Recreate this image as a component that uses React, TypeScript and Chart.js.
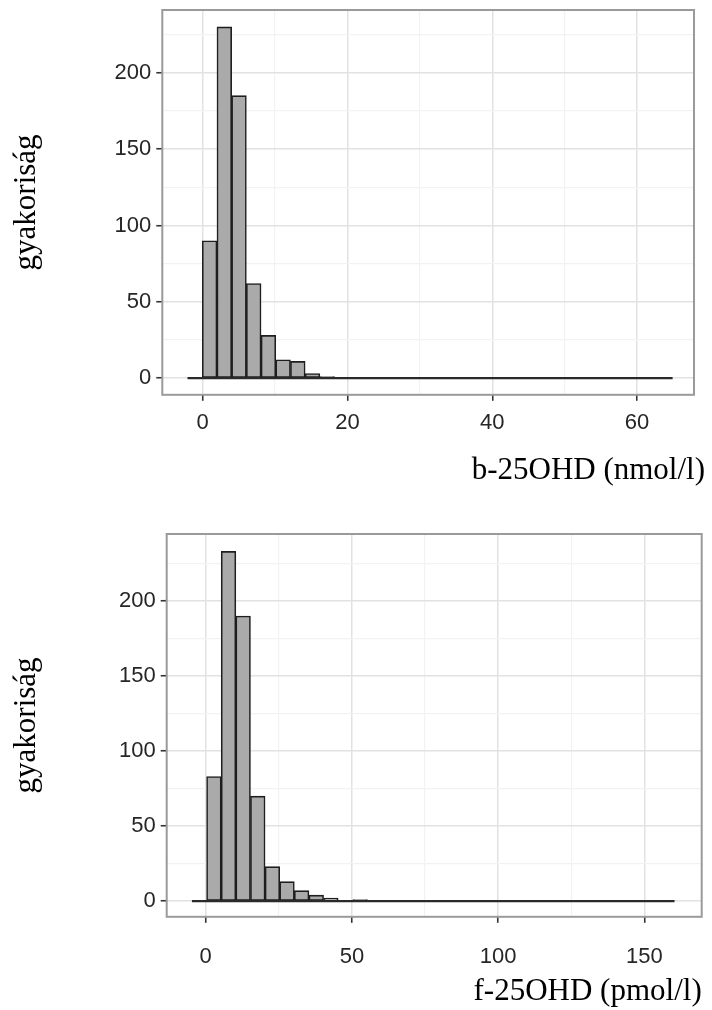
import { useEffect, useRef } from 'react';
import Chart from 'chart.js/auto';

// ---- data: top histogram (b-25OHD, nmol/l) ----
const bBinStart = -2.09;
const bBinWidth = 2.03;
const bCounts = [
  0, 90, 230, 185, 62, 28, 12, 11, 3, 1,
  0, 0, 0, 0, 0, 0, 0, 0, 0, 0,
  0, 0, 0, 0, 0, 0, 0, 0, 0, 0,
  0, 0, 0,
];
const bXMajor = [0, 20, 40, 60];
const bXMinor = [10, 30, 50];

// ---- data: bottom histogram (f-25OHD, pmol/l) ----
const fBinStart = -4.7;
const fBinWidth = 5.0;
const fCounts = [
  0, 83, 233, 190, 70, 23, 13, 7, 4, 2,
  0, 1, 0, 0, 0, 0, 0, 0, 0, 0,
  0, 0, 0, 0, 0, 0, 0, 0, 0, 0,
  0, 0, 0,
];
const fXMajor = [0, 50, 100, 150];
const fXMinor = [25, 75, 125];

// ---- shared y ticks ----
const yMajor = [0, 50, 100, 150, 200];
const yMinor = [25, 75, 125, 175, 225];

const yTitle = 'gyakoriság';
const bXTitle = 'b-25OHD (nmol/l)';
const fXTitle = 'f-25OHD (pmol/l)';

type Panel = {
  counts: number[];
  binStart: number;
  binWidth: number;
  xMajor: number[];
  xMinor: number[];
  xTitle: string;
  xMin: number;
  xMax: number;
  yMin: number;
  yMax: number;
  width: number;
  height: number;
  padTop: number;
  padRight: number;
  dummyRight: number;
  yAxisWidth: number;
  xAxisHeight: number;
  xTickPad: number;
  titlePadTop: number;
  titlePadBottom: number;
};

const SANS = '"Liberation Sans", Arial, sans-serif';
const SERIF = '"Liberation Serif", "Times New Roman", serif';

const panelBorder = {
  id: 'panelBorder',
  afterDatasetsDraw(chart: any) {
    const { ctx, chartArea: a } = chart;
    ctx.save();
    ctx.strokeStyle = '#9a9a9a';
    ctx.lineWidth = 2;
    ctx.strokeRect(a.left, a.top, a.right - a.left, a.bottom - a.top);
    ctx.restore();
  },
};

function zeroPad(s: any) {
  s.paddingTop = 0;
  s.paddingBottom = 0;
  s.paddingLeft = 0;
  s.paddingRight = 0;
}

function buildConfig(p: Panel): any {
  const bars = p.counts.map((c, i) => ({ x: p.binStart + (i + 0.5) * p.binWidth, y: c }));
  const lastEdge = p.binStart + p.counts.length * p.binWidth;
  const xTicks = [...p.xMajor, ...p.xMinor].sort((a, b) => a - b);
  const yTicks = [...yMajor, ...yMinor].sort((a, b) => a - b);
  const gridColor = (majors: number[]) => (c: any) =>
    c.tick && majors.includes(c.tick.value) ? '#e2e2e2' : '#f2f2f2';
  const gridWidth = (majors: number[]) => (c: any) =>
    c.tick && majors.includes(c.tick.value) ? 1.5 : 1.2;
  const tickColor = (majors: number[]) => (c: any) =>
    c.tick && majors.includes(c.tick.value) ? '#333' : 'rgba(0,0,0,0)';

  return {
    type: 'bar',
    data: {
      datasets: [
        {
          type: 'line',
          data: [
            { x: p.binStart, y: 0 },
            { x: lastEdge, y: 0 },
          ],
          borderColor: '#2a2a2a',
          borderWidth: 2.2,
          pointRadius: 0,
          fill: false,
        },
        {
          type: 'bar',
          data: bars,
          backgroundColor: '#aaaaaa',
          borderColor: '#1e1e1e',
          borderWidth: (c: any) => (c.raw && c.raw.y > 0 ? 1.6 : 0),
          borderSkipped: false,
          barPercentage: 1,
          categoryPercentage: 1,
        },
      ],
    },
    options: {
      responsive: false,
      animation: false,
      devicePixelRatio: 1,
      layout: { padding: { top: p.padTop, right: p.padRight, left: 0, bottom: 0 } },
      plugins: {
        legend: { display: false },
        tooltip: { enabled: false },
        title: {
          display: true,
          text: p.xTitle,
          position: 'bottom',
          align: 'end',
          color: '#000',
          font: { family: SERIF, size: 31, weight: 'normal' },
          padding: { top: p.titlePadTop, bottom: p.titlePadBottom },
        },
      },
      scales: {
        x: {
          type: 'linear',
          position: 'bottom',
          min: p.xMin,
          max: p.xMax,
          offset: false,
          afterBuildTicks: (s: any) => {
            s.ticks = xTicks.map((v) => ({ value: v }));
          },
          afterFit: (s: any) => {
            s.height = p.xAxisHeight;
            zeroPad(s);
          },
          ticks: {
            autoSkip: false,
            maxRotation: 0,
            minRotation: 0,
            padding: p.xTickPad,
            color: '#262626',
            font: { family: SANS, size: 22 },
            callback: (v: any) => (p.xMajor.includes(Number(v)) ? String(v) : ''),
          },
          grid: {
            offset: false,
            drawTicks: true,
            tickLength: 6,
            color: gridColor(p.xMajor),
            lineWidth: gridWidth(p.xMajor),
            tickColor: tickColor(p.xMajor),
            tickWidth: 1.6,
          },
          border: { display: false },
        },
        y: {
          type: 'linear',
          position: 'left',
          min: p.yMin,
          max: p.yMax,
          afterBuildTicks: (s: any) => {
            s.ticks = yTicks.map((v) => ({ value: v }));
          },
          afterFit: (s: any) => {
            s.width = p.yAxisWidth;
            zeroPad(s);
          },
          ticks: {
            autoSkip: false,
            padding: 5,
            color: '#262626',
            font: { family: SANS, size: 22 },
            callback: (v: any) => (yMajor.includes(Number(v)) ? String(v) : ''),
          },
          grid: {
            drawTicks: true,
            tickLength: 6,
            color: gridColor(yMajor),
            lineWidth: gridWidth(yMajor),
            tickColor: tickColor(yMajor),
            tickWidth: 1.6,
          },
          border: { display: false },
          title: {
            display: true,
            text: yTitle,
            color: '#000',
            font: { family: SERIF, size: 31, weight: 'normal' },
            padding: { top: 8, bottom: 0 },
          },
        },
        r: {
          type: 'linear',
          position: 'right',
          display: true,
          min: 0,
          max: 1,
          afterFit: (s: any) => {
            s.width = p.dummyRight;
            zeroPad(s);
          },
          ticks: { display: false },
          grid: { display: false, drawTicks: false },
          border: { display: false },
        },
      },
    },
    plugins: [panelBorder],
  };
}

const topPanel: Panel = {
  counts: bCounts,
  binStart: bBinStart,
  binWidth: bBinWidth,
  xMajor: bXMajor,
  xMinor: bXMinor,
  xTitle: bXTitle,
  xMin: -5.58,
  xMax: 67.86,
  yMin: -10.9,
  yMax: 241.1,
  width: 705,
  height: 495,
  padTop: 10,
  padRight: 0,
  dummyRight: 11,
  yAxisWidth: 162.3,
  xAxisHeight: 40,
  xTickPad: 9,
  titlePadTop: 17,
  titlePadBottom: 6,
};

const bottomPanel: Panel = {
  counts: fCounts,
  binStart: fBinStart,
  binWidth: fBinWidth,
  xMajor: fXMajor,
  xMinor: fXMinor,
  xTitle: fXTitle,
  xMin: -13.34,
  xMax: 169.6,
  yMin: -10.4,
  yMax: 244.6,
  width: 712,
  height: 515,
  padTop: 39,
  padRight: 10.3,
  dummyRight: 0,
  yAxisWidth: 166.7,
  xAxisHeight: 50,
  xTickPad: 21,
  titlePadTop: 6,
  titlePadBottom: 0,
};

function HistPanel({ panel, top }: { panel: Panel; top: number }) {
  const ref = useRef<HTMLCanvasElement | null>(null);
  useEffect(() => {
    if (!ref.current) return;
    const chart = new Chart(ref.current, buildConfig(panel));
    return () => chart.destroy();
  }, [panel]);
  return (
    <div style={{ position: 'absolute', left: 0, top, width: panel.width, height: panel.height }}>
      <canvas
        ref={ref}
        width={panel.width}
        height={panel.height}
        style={{ width: panel.width, height: panel.height, display: 'block' }}
      />
    </div>
  );
}

export default function App() {
  return (
    <div style={{ position: 'absolute', left: 0, top: 0, width: 712, height: 1010, background: '#fff' }}>
      <HistPanel panel={topPanel} top={0} />
      <HistPanel panel={bottomPanel} top={495} />
    </div>
  );
}
